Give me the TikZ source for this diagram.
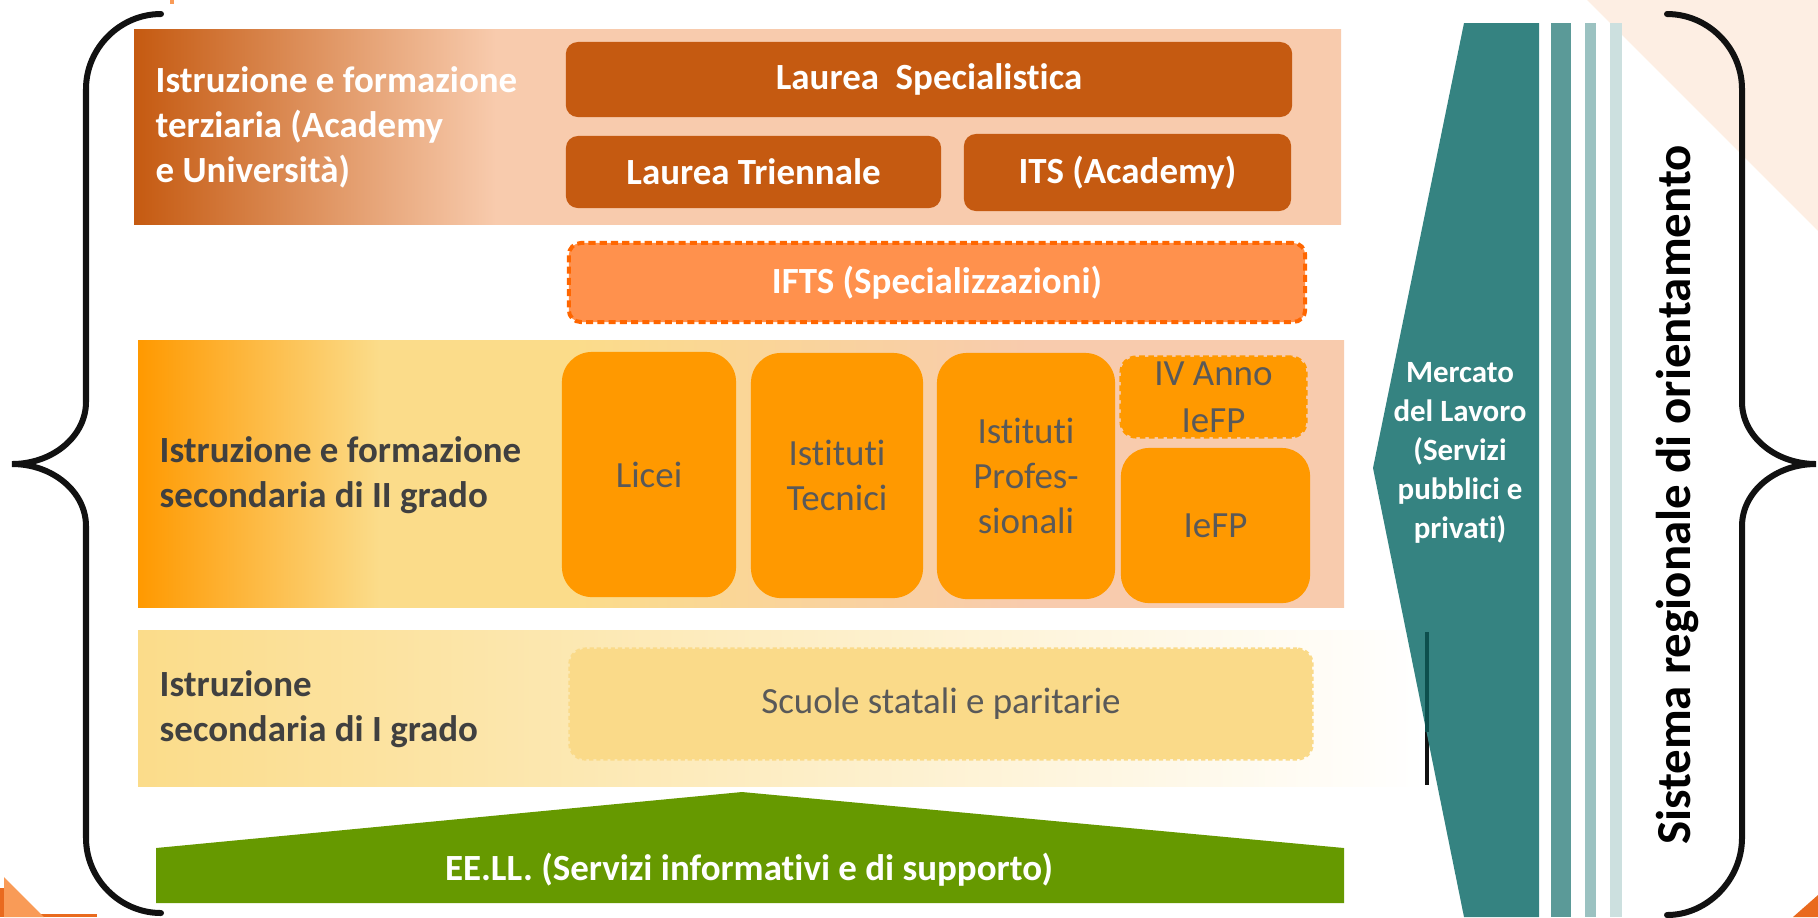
\documentclass[tikz,border=0pt]{standalone}
\usepackage{fontspec}
\setmainfont{Carlito}[Ligatures=NoCommon]
\definecolor{TertDark}{HTML}{C55A11}
\definecolor{TertPeach}{HTML}{F8CBAD}
\definecolor{IftsFill}{HTML}{FF914D}
\definecolor{IftsDash}{HTML}{FF6600}
\definecolor{SecOrange}{HTML}{FF9900}
\definecolor{SecYellow}{HTML}{FBDC8A}
\definecolor{ScuoleFill}{HTML}{FADA89}
\definecolor{TitleGray}{HTML}{404040}
\definecolor{BoxGray}{HTML}{595959}
\definecolor{MercatoTeal}{HTML}{358381}
\definecolor{MercatoDark}{HTML}{0D4F4D}
\definecolor{StripeA}{HTML}{5B9A98}
\definecolor{StripeB}{HTML}{9BC2C1}
\definecolor{StripeC}{HTML}{CCE0DF}
\definecolor{EellGreen}{HTML}{669900}
\definecolor{CornerPeach}{HTML}{FDEEE3}
\definecolor{CornerOrange}{HTML}{E96A1E}
\definecolor{CornerLight}{HTML}{F99B57}
\definecolor{BraceBlack}{HTML}{111111}
\pgfdeclarehorizontalshading{TertShade}{100bp}{color(0bp)=(TertDark); color(25bp)=(TertDark); color(40bp)=(TertPeach); color(100bp)=(TertPeach)}
\pgfdeclarehorizontalshading{SecShade}{100bp}{color(0bp)=(SecOrange); color(25bp)=(SecOrange); color(35bp)=(SecYellow); color(43bp)=(SecYellow); color(62bp)=(TertPeach); color(100bp)=(TertPeach)}
\pgfdeclarehorizontalshading{PrimShade}{100bp}{color(0bp)=(SecYellow); color(25bp)=(SecYellow); color(75bp)=(white); color(100bp)=(white)}

\begin{document}
\begin{tikzpicture}[x=0.01cm,y=-0.01cm,
  brace/.style={draw=BraceBlack,line width=0.06cm,line cap=round},
  bandtitle/.style={anchor=west,align=left,inner sep=0pt,font=\bfseries\fontsize{10.5}{12.8}\selectfont},
  tertbox/.style={fill=TertDark,rounded corners=0.12cm,inner sep=0pt,text=white,font=\bfseries\fontsize{10.5}{12.8}\selectfont},
  iftsbox/.style={fill=IftsFill,draw=IftsDash,line width=0.04cm,dash pattern=on 2pt off 1.2pt,rounded corners=0.12cm,inner sep=0pt,text=white,font=\bfseries\fontsize{10.5}{12.8}\selectfont},
  secbox/.style={fill=SecOrange,rounded corners=0.3cm,inner sep=0pt,text=BoxGray,align=center,font=\fontsize{10.5}{12.8}\selectfont},
  ivbox/.style={fill=SecOrange,draw=SecOrange,line width=0.03cm,dash pattern=on 1.6pt off 1pt,rounded corners=0.15cm,inner sep=0pt},
  boxtext/.style={inner sep=0pt,text=BoxGray,align=center,font=\fontsize{10.5}{13.4}\selectfont},
  scuolebox/.style={fill=ScuoleFill,draw=ScuoleFill,line width=0.03cm,dash pattern=on 1.2pt off 0.8pt,rounded corners=0.15cm,inner sep=0pt,text=BoxGray,font=\fontsize{10.5}{12.8}\selectfont},
  mercato/.style={inner sep=0pt,text=white,align=center,font=\bfseries\fontsize{8.8}{11.1}\selectfont},
  eelltext/.style={inner sep=0pt,text=white,font=\bfseries\fontsize{10.5}{12.8}\selectfont}]
  \useasboundingbox (0,0) rectangle (1818,917);
  \fill[CornerPeach] (1587,0) -- (1818,0) -- (1818,231) -- cycle;
  \fill[CornerOrange] (1793,917) -- (1818,895) -- (1818,917) -- cycle;
  \fill[CornerOrange] (0,888) rectangle (4,917);
  \fill[CornerOrange] (40,914) rectangle (97,917);
  \fill[CornerLight] (4,877) -- (44,917) -- (4,917) -- cycle;
  \fill[CornerLight] (170,0) rectangle (174,4);

  \shade[shading=TertShade] (134,29) rectangle (1341,224);
  \shade[shading=SecShade] (138,340) rectangle (1344,607);
  \shade[shading=PrimShade] (138,630) rectangle (1424,786);
  \fill[EellGreen] (156,848) -- (742,792) -- (1344,848) -- (1344,903) -- (156,903) -- cycle;

  \draw[BraceBlack,line width=0.04cm] (1427,632) -- (1427,785);
  \fill[MercatoTeal] (1464,23) -- (1539,23) -- (1539,917) -- (1464,917) -- (1373,468) -- cycle;
  \draw[MercatoDark,line width=0.04cm] (1427,632) -- (1427,732);
  \fill[StripeA] (1551,23) rectangle (1571,917);
  \fill[StripeB] (1585,23) rectangle (1596,917);
  \fill[StripeC] (1610,23) rectangle (1622,917);

  \node[bandtitle,text=white] (terttitle) at (155,127.5) {Istruzione e formazione\\terziaria (Academy\\e Università)};
  \node[tertbox,minimum width=7.26cm,minimum height=0.75cm] (specialistica) at (929,79.5) {Laurea\ \ Specialistica};
  \node[tertbox,minimum width=3.75cm,minimum height=0.72cm] (triennale) at (753.5,172) {Laurea Triennale};
  \node[tertbox,minimum width=3.27cm,minimum height=0.77cm] (its) at (1127.5,172.5) {ITS (Academy)};
  \node[iftsbox,minimum width=7.36cm,minimum height=0.79cm] (ifts) at (937,282.5) {IFTS (Specializzazioni)};

  \node[bandtitle,text=TitleGray] (sectitle) at (159,475) {Istruzione e formazione\\secondaria di II grado};
  \node[secbox,minimum width=1.74cm,minimum height=2.45cm] (licei) at (649,474.5) {Licei};
  \node[secbox,minimum width=1.72cm,minimum height=2.45cm] (tecnici) at (837,475.5) {Istituti\\Tecnici};
  \node[secbox,minimum width=1.78cm,minimum height=2.46cm] (professionali) at (1026,476) {Istituti\\Profes-\\sionali};
  \node[ivbox,minimum width=1.85cm,minimum height=0.8cm] (ivanno) at (1213.5,397) {};
  \node[boxtext] (ivannotext) at (ivanno) {IV Anno\\IeFP};
  \node[secbox,rounded corners=0.28cm,minimum width=1.89cm,minimum height=1.55cm] (iefp) at (1215.5,525.5) {IeFP};

  \node[bandtitle,text=TitleGray] (primtitle) at (159,709.5) {Istruzione\\secondaria di I grado};
  \node[scuolebox,minimum width=7.42cm,minimum height=1.1cm] (scuole) at (941,704) {Scuole statali e paritarie};

  \node[eelltext] (eell) at (749,870) {EE.LL. (Servizi informativi e di supporto)};
  \node[mercato] (mercatolavoro) at (1460,452.5) {Mercato\\del Lavoro\\(Servizi\\pubblici e\\privati)};
  \node[rotate=90,anchor=base,inner sep=0pt,font=\bfseries\fontsize{13.9}{16}\selectfont] (sistema) at (1690,495) {Sistema regionale di orientamento};

  \draw[brace] (161,14) .. controls (120,14) and (86,48) .. (86,89) -- (86,402) .. controls (86,436) and (53,464) .. (12,464) .. controls (53,464) and (86,492) .. (86,526) -- (86,838) .. controls (86,879) and (120,913) .. (161,913);
  \draw[brace] (1667,14) .. controls (1708,14) and (1742,48) .. (1742,89) -- (1742,402) .. controls (1742,436) and (1775,464) .. (1816,464) .. controls (1775,464) and (1742,492) .. (1742,526) -- (1742,838) .. controls (1742,879) and (1708,915) .. (1667,915);
\end{tikzpicture}
\end{document}
